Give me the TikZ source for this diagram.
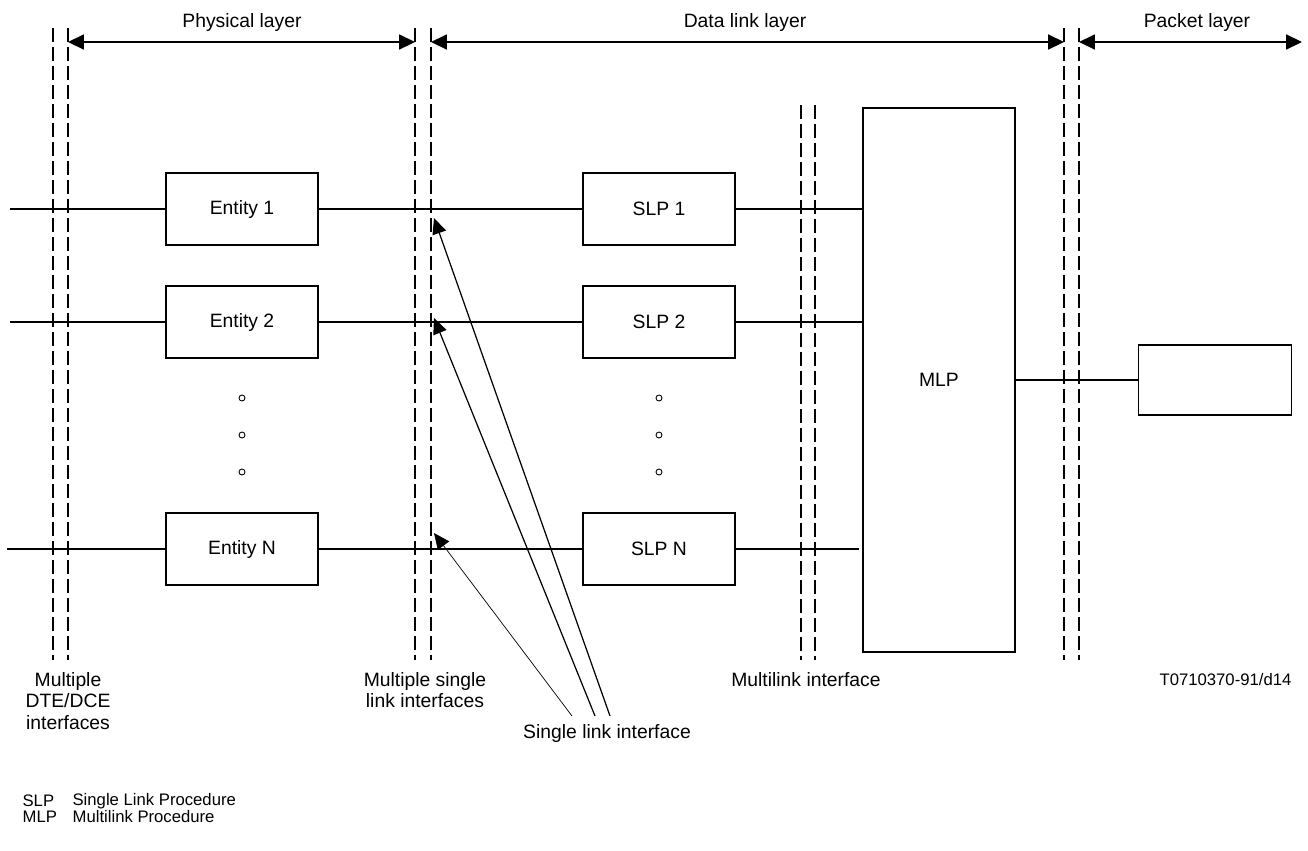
\documentclass[tikz,border=0pt]{standalone}
\usepackage{fontspec}
\setmainfont{Liberation Sans}
\usetikzlibrary{arrows.meta}

\begin{document}
\begin{tikzpicture}[x=0.02cm,y=-0.02cm,line width=0.7pt,
	font=\fontsize{11}{12}\selectfont,
	box/.style={draw,minimum width=3.04cm,minimum height=1.44cm,inner sep=0pt},
	iface/.style={dash pattern=on 0.28cm off 0.1cm},
	layer/.style={{Triangle[length=9pt,width=8.5pt]}-{Triangle[length=9pt,width=8.5pt]},line width=0.9pt},
	ptr/.style={-{Triangle[length=9pt,width=8pt]}},
	lbl/.style={align=center,inner sep=0pt},
	legend/.style={anchor=west,inner sep=0pt,font=\fontsize{9.5}{11}\selectfont}]
	\useasboundingbox (0,0) rectangle (1308,850);
	% interfaces
	\foreach \x in {53,68,415,431,1064,1079}
		\draw[iface] (\x,28) -- (\x,660);
	\foreach \x in {801,815}
		\draw[iface] (\x,105) -- (\x,660);
	% layers
	\draw[layer] (68,42) -- (415,42);
	\draw[layer] (431,42) -- (1064,42);
	\draw[layer] (1079,42) -- (1302,42);
	\node (phys) at (242,22) {Physical layer};
	\node (dlink) at (745,22) {Data link layer};
	\node (pkt) at (1197,22) {Packet layer};
	% entities and single link procedures
	\node[box] (e1) at (242,209) {Entity 1};
	\node[box] (e2) at (242,322) {Entity 2};
	\node[box] (en) at (242,549) {Entity N};
	\node[box] (s1) at (659,209) {SLP 1};
	\node[box] (s2) at (659,322) {SLP 2};
	\node[box] (sn) at (659,549) {SLP N};
	\node[box,minimum height=10.88cm] (mlp) at (939,380) {MLP};
	\node[box,minimum width=3.06cm,minimum height=1.4cm] (pl) at (1215,380) {};
	\foreach \y in {398,435,472} {
		\draw[line width=0.5pt] (242,\y) circle (0.06cm);
		\draw[line width=0.5pt] (659,\y) circle (0.06cm);
	}
	% links
	\coordinate (in1) at (10,209);
	\coordinate (in2) at (10,322);
	\coordinate (inn) at (7,549);
	\draw (in1) -- (e1) -- (s1) -- (s1 -| mlp.west);
	\draw (in2) -- (e2) -- (s2) -- (s2 -| mlp.west);
	\draw (inn) -- (en) -- (sn) -- ([xshift=-0.06cm]sn -| mlp.west);
	\draw (mlp.east |- pl.west) -- (pl.west);
	% labels
	\node[lbl] (dteif) at (68,701) {Multiple\\DTE/DCE\\interfaces};
	\node[lbl] (mslif) at (425,690) {Multiple single\\link interfaces};
	\node[lbl] (mlif) at (806,680) {Multilink interface};
	\node[lbl,anchor=east,font=\fontsize{9.5}{11}\selectfont] (fig) at (1292,680) {T0710370-91/d14};
	\node[lbl] (sli) at (607,733) {Single link interface};
	% single link interface pointers
	\coordinate (t1) at (434,218);
	\coordinate (t2) at (434,318);
	\coordinate (tn) at (434,533);
	\coordinate (f1) at (610,716);
	\coordinate (f2) at (595,716);
	\coordinate (fn) at (572,716);
	\draw[ptr] (f1) -- (t1);
	\draw[ptr] (f2) -- (t2);
	\draw[ptr,line width=0.4pt] (fn) -- (tn);
	% legend
	\node[legend] (slpab) at (22,801) {SLP};
	\node[legend] (slpdef) at (72,801) {Single Link Procedure};
	\node[legend] (mlpab) at (22,817) {MLP};
	\node[legend] (mlpdef) at (72,817) {Multilink Procedure};
\end{tikzpicture}
\end{document}
